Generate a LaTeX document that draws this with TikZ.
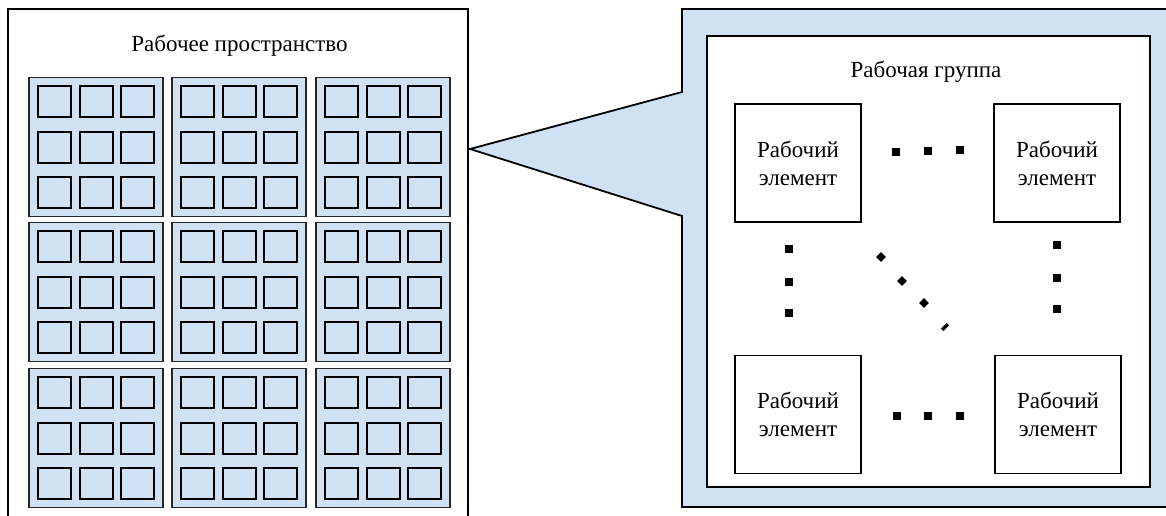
\documentclass[tikz,border=0pt]{standalone}
\usepackage{fontspec}
\setmainfont{Liberation Serif}
\usetikzlibrary{positioning}
\definecolor{groupblue}{RGB}{207,225,242}

\tikzset{
  groupbox/.style={draw=black!85, line width=1.8pt, fill=groupblue, minimum width=134pt, minimum height=139pt, inner sep=0pt},
  cellbox/.style={draw, line width=2pt, fill=groupblue, minimum width=33pt, minimum height=31pt, inner sep=0pt},
  elembox/.style={draw, line width=1.8pt, fill=white, minimum width=126pt, minimum height=118pt, inner sep=0pt, align=center, font=\fontsize{23}{28}\selectfont},
  dotsq/.style={fill, minimum size=7.5pt, inner sep=0pt},
  dotdm/.style={fill, minimum size=6.8pt, inner sep=0pt, rotate=45}
}

\begin{document}
\begin{tikzpicture}[x=1pt, y=-1pt, font=\fontsize{23}{28}\selectfont]
                \clip (0,0) rectangle (1166,516);

                % workspace
                \draw[line width=2.8pt] (8,530) -- (8,9) -- (468,9) -- (468,530);
                \node (ws) at (239.5,46) {Рабочее пространство};

                \foreach \r/\gy in {1/147,2/292,3/438}
                  \foreach \c/\gx in {1/96,2/239,3/383}{
                    \node[groupbox] (g\r\c) at (\gx,\gy) {};
                    \foreach \i/\dy in {1/-45.5,2/0,3/45.5}
                      \foreach \j/\dx in {1/-41.5,2/0,3/41.5}
                        \node[cellbox] (g\r\c c\i\j) at ({\gx+\dx},{\gy+\dy}) {};
                  }

                % work group callout
                \coordinate (tip) at (470,149);
                \filldraw[fill=groupblue, line width=1.8pt] (1180,9) -- (682,9) -- (682,92) -- (tip) -- (682,216) -- (682,507) -- (1180,507);
                \node[draw, fill=white, line width=2pt, minimum width=443pt, minimum height=451pt] (wg) at (928.5,261.5) {};
                \node (wgt) at (926,72) {Рабочая группа};

                \node[elembox] (e11) at (798,163) {Рабочий\\элемент};
                \node[elembox] (e12) at (1057,163) {Рабочий\\элемент};
                \node[elembox] (e21) at (798,414.5) {Рабочий\\элемент};
                \node[elembox] (e22) at (1058,414.5) {Рабочий\\элемент};

                \node[dotsq] (t1) at (896,152) {};
                \node[dotsq] (t2) at (928,151) {};
                \node[dotsq] (t3) at (960,150) {};
                \node[dotsq] (b1) at (897,416) {};
                \node[dotsq] (b2) at (928,416) {};
                \node[dotsq] (b3) at (960,416) {};
                \node[dotsq] (l1) at (789,249) {};
                \node[dotsq] (l2) at (789,282) {};
                \node[dotsq] (l3) at (789,313) {};
                \node[dotsq] (r1) at (1057,245) {};
                \node[dotsq] (r2) at (1057,278) {};
                \node[dotsq] (r3) at (1057,309) {};
                \node[dotdm] (d1) at (881,257) {};
                \node[dotdm] (d2) at (902,281) {};
                \node[dotdm] (d3) at (924,303) {};
                \node[fill, minimum width=8pt, minimum height=3.5pt, inner sep=0pt, rotate=45] (d4) at (945,327) {};
            \end{tikzpicture}
\end{document}
